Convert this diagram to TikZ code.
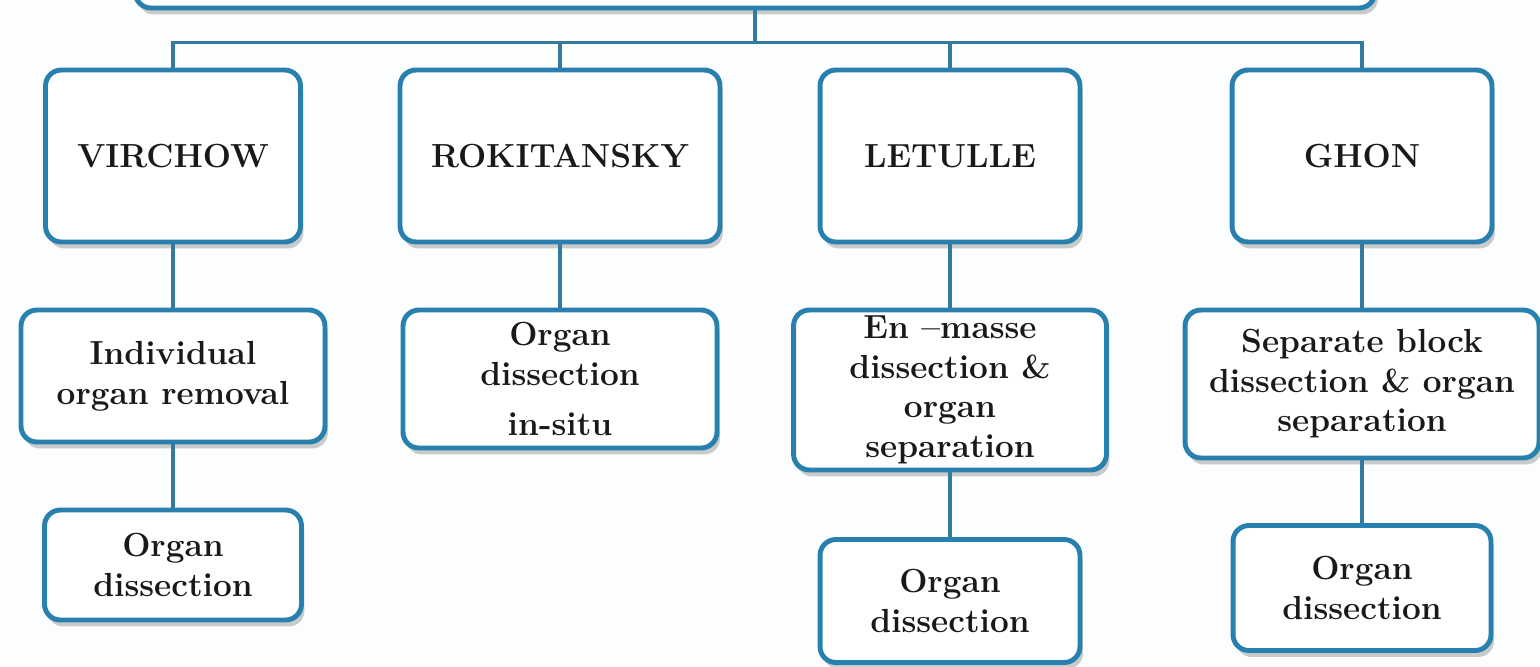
\documentclass[tikz,border=0pt]{standalone}
\usepackage{tikz}
\usetikzlibrary{shadows}

\definecolor{boxblue}{RGB}{40,128,175}
\definecolor{linkblue}{RGB}{52,122,158}
\definecolor{paper}{RGB}{251,253,254}

\begin{document}
\begin{tikzpicture}[x=0.02cm, y=-0.02cm,
    box/.style={draw=boxblue, line width=2.8pt, rounded corners=9pt, fill=white,
        drop shadow={opacity=0.4, shadow xshift=0.6mm, shadow yshift=-1.3mm},
        align=center, inner sep=2pt, text=black!90},
    namebox/.style={box, font=\fontsize{19}{22}\selectfont\bfseries},
    stepbox/.style={box, font=\fontsize{19}{22.5}\selectfont\bfseries},
    link/.style={draw=linkblue, line width=1.8pt}]
    % Page and background
    \useasboundingbox (0,0) rectangle (1540,666);
    \clip (0,0) rectangle (1540,666);
    \fill[paper] (0,0) rectangle (1540,666);

    % Top box (cut off at the page edge)
    \node[box, minimum width=24.8cm, minimum height=1.92cm] (top) at (755,-40) {};

    % First row: the methods
    \node[namebox, minimum width=5.1cm, minimum height=3.44cm] (vir1) at (173,156) {VIRCHOW};
    \node[namebox, minimum width=6.4cm, minimum height=3.44cm] (rok1) at (560,156) {ROKITANSKY};
    \node[namebox, minimum width=5.2cm, minimum height=3.44cm] (let1) at (950,156) {LETULLE};
    \node[namebox, minimum width=5.2cm, minimum height=3.44cm] (gho1) at (1362,156) {GHON};

    % Second row
    \node[stepbox, minimum width=6.08cm, minimum height=2.64cm] (vir2) at (173,376) {Individual\\organ removal};
    \node[stepbox, minimum width=6.28cm, minimum height=2.76cm] (rok2) at (560,379) {Organ\\dissection\\[6pt]in-situ};
    \node[stepbox, minimum width=6.26cm, minimum height=3.2cm] (let2) at (950,390) {En --masse\\dissection \&\\organ\\separation};
    \node[stepbox, minimum width=7.08cm, minimum height=2.96cm] (gho2) at (1362,384) {Separate block\\dissection \& organ\\separation};

    % Third row
    \node[stepbox, minimum width=5.14cm, minimum height=2.2cm] (vir3) at (173,565) {Organ\\dissection};
    \node[stepbox, minimum width=5.2cm, minimum height=2.46cm] (let3) at (950,601) {Organ\\dissection};
    \node[stepbox, minimum width=5.16cm, minimum height=2.5cm] (gho3) at (1362,588) {Organ\\dissection};

    % Connectors
    \draw[link] (top.south) -- ++(0,32) coordinate (bus);
    \draw[link] (vir1.north) |- (bus) -| (gho1.north);
    \draw[link] (rok1.north) -- (rok1.north |- bus);
    \draw[link] (let1.north) -- (let1.north |- bus);

    \draw[link] (vir1) -- (vir2);
    \draw[link] (rok1) -- (rok2);
    \draw[link] (let1) -- (let2);
    \draw[link] (gho1) -- (gho2);

    \draw[link] (vir2) -- (vir3);
    \draw[link] (let2) -- (let3);
    \draw[link] (gho2) -- (gho3);
\end{tikzpicture}
\end{document}
